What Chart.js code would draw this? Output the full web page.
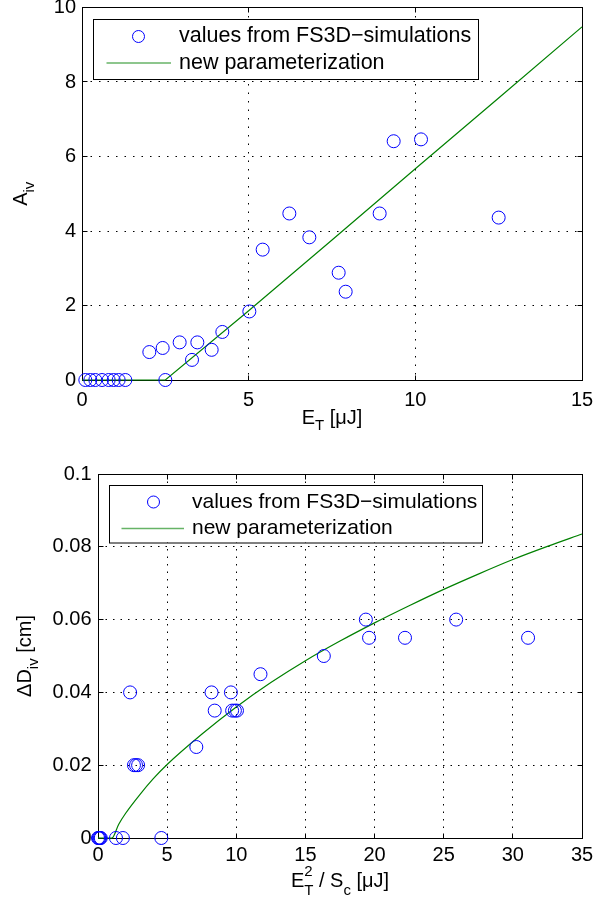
<!DOCTYPE html>
<html>
<head>
<meta charset="utf-8">
<script src="https://cdn.jsdelivr.net/npm/chart.js@4.4.1/dist/chart.umd.min.js"></script>
<style>
  body { margin: 0; background: #fff; }
  #wrap { position: relative; width: 608px; height: 898px; }
  canvas { position: absolute; left: 0; }
</style>
</head>
<body>
<div id="wrap">
  <canvas id="aivChart" width="608" height="440" style="top:0"></canvas>
  <canvas id="dChart" width="608" height="458" style="top:440px"></canvas>
</div>
<script>
// A_iv vs E_T : simulation results
const aivSimE = [0.1, 0.25, 0.4, 0.6, 0.8, 0.95, 1.1, 1.3, 2.02, 2.42, 2.5, 2.93, 3.3, 3.46, 3.89, 4.21,
                 5.02, 5.42, 6.22, 6.82, 7.7, 7.91, 8.93, 9.35, 10.17, 12.5];
const aivSimA = [0, 0, 0, 0, 0, 0, 0, 0, 0.75, 0.86, 0, 1.01, 0.54, 1.01, 0.81, 1.29,
                 1.84, 3.5, 4.47, 3.83, 2.88, 2.37, 4.47, 6.41, 6.46, 4.36];
// A_iv parameterization curve
const aivFitE = [0, 2.5, 5, 7.5, 10, 12.5, 15];
const aivFitA = [0, 0, 1.86, 3.76, 5.67, 7.57, 9.48];
const aivXTicks = [0, 5, 10, 15];
const aivYTicks = [0, 2, 4, 6, 8, 10];

// dD_iv vs E_T^2/S_c : simulation results
const dSimX = [0, 0.05, 0.1, 0.15, 0.2, 1.3, 1.8, 4.58, 2.32, 2.6, 2.75, 2.9, 7.11, 8.21, 8.44,
               9.61, 9.7, 9.9, 10.05, 11.75, 16.33, 19.37, 19.6, 22.2, 25.9, 31.1];
const dSimY = [0, 0, 0, 0, 0, 0, 0, 0, 0.04, 0.02, 0.02, 0.02, 0.025, 0.04, 0.035,
               0.04, 0.035, 0.035, 0.035, 0.045, 0.05, 0.06, 0.055, 0.055, 0.06, 0.055];
// dD_iv parameterization curve
const dFitX = [0, 1.0, 1.5, 2, 3, 4, 5, 7.5, 10, 12.5, 15, 17.5, 20, 22.5, 25, 27.5, 30, 32.5, 35];
const dFitY = [0, 0, 0.0038, 0.0068, 0.0118, 0.0163, 0.0202, 0.0285, 0.036, 0.0427, 0.0487, 0.0541,
               0.0591, 0.0638, 0.0683, 0.0725, 0.0765, 0.0801, 0.0835];
const dXTicks = [0, 5, 10, 15, 20, 25, 30, 35];
const dYTicks = [0, 0.02, 0.04, 0.06, 0.08, 0.1];

const simLabel = 'values from FS3D\u2212simulations';
const fitLabel = 'new parameterization';

const FONT = "'Liberation Sans', Arial, Helvetica, sans-serif";
Chart.defaults.font.family = FONT;
Chart.defaults.color = '#000';

const fmt = v => String(+Number(v).toFixed(4));
const align = p => Math.round(p - 0.5) + 0.5;

// text with sub/superscripts; parts: {t, dy, size, hold}
function drawRich(ctx, parts, cx, baseY, angle, size) {
  ctx.save();
  ctx.translate(cx, baseY);
  ctx.rotate(angle);
  ctx.textBaseline = 'alphabetic';
  ctx.textAlign = 'left';
  ctx.fillStyle = '#000';
  let total = 0;
  parts.forEach(p => {
    ctx.font = (p.size || size) + 'px ' + FONT;
    p.w = ctx.measureText(p.t).width;
    if (!p.hold) total += p.w;
  });
  let x = -total / 2;
  parts.forEach(p => {
    ctx.font = (p.size || size) + 'px ' + FONT;
    ctx.fillText(p.t, x, p.dy || 0);
    if (!p.hold) x += p.w;
  });
  ctx.restore();
}

// axes box with inward ticks, boxed legend, axis titles
const framePlugin = {
  id: 'frame',
  beforeDatasetsDraw(chart, args, o) {
    const { ctx, chartArea: a, scales: { x, y } } = chart;
    ctx.save();
    ctx.strokeStyle = '#000';
    ctx.lineWidth = 1;
    const l = align(a.left), r = align(a.right), t = align(a.top), b = align(a.bottom);
    ctx.strokeRect(l, t, r - l, b - t);
    ctx.beginPath();
    x.ticks.forEach(tk => {
      const px = align(x.getPixelForValue(tk.value));
      ctx.moveTo(px, b); ctx.lineTo(px, b - o.tick);
      ctx.moveTo(px, t); ctx.lineTo(px, t + o.tick);
    });
    y.ticks.forEach(tk => {
      const py = align(y.getPixelForValue(tk.value));
      ctx.moveTo(l, py); ctx.lineTo(l + o.tick, py);
      ctx.moveTo(r, py); ctx.lineTo(r - o.tick, py);
    });
    ctx.stroke();
    ctx.restore();
  },
  afterDatasetsDraw(chart, args, o) {
    const { ctx, chartArea: a } = chart;
    const L = o.legend;
    const bx = Math.round(a.left + L.dx), by = Math.round(a.top + L.dy);
    const [sim, fit] = chart.data.datasets;
    ctx.save();
    ctx.fillStyle = '#fff';
    ctx.fillRect(bx, by, L.w, L.h);
    ctx.strokeStyle = '#000';
    ctx.lineWidth = 1;
    ctx.strokeRect(bx + 0.5, by + 0.5, L.w, L.h);
    ctx.strokeStyle = sim.pointBorderColor;
    ctx.beginPath();
    ctx.arc(bx + L.markX, by + L.row1, 6, 0, Math.PI * 2);
    ctx.stroke();
    ctx.strokeStyle = 'rgba(0,128,0,0.6)';
    ctx.lineWidth = 1.6;
    ctx.beginPath();
    ctx.moveTo(bx + L.lineX0, by + L.row2);
    ctx.lineTo(bx + L.lineX1, by + L.row2);
    ctx.stroke();
    ctx.fillStyle = '#000';
    ctx.font = L.font + 'px ' + FONT;
    ctx.textBaseline = 'middle';
    ctx.fillText(sim.label, bx + L.textX, by + L.row1);
    ctx.fillText(fit.label, bx + L.textX, by + L.row2);
    ctx.restore();
  },
  afterDraw(chart, args, o) {
    const { ctx, chartArea: a } = chart;
    drawRich(ctx, o.xTitle, (a.left + a.right) / 2, o.xTitleY, 0, 20);
    drawRich(ctx, o.yTitle, o.yTitleX, (a.top + a.bottom) / 2, -Math.PI / 2, 20);
  }
};

function buildChart(id, simX, simY, fitX, fitY, xTicks, yTicks, area, pad, frame, smooth) {
  const canvas = document.getElementById(id);
  const W = canvas.width, H = canvas.height;
  const gridOpts = { color: '#000', lineWidth: 1, drawTicks: false };
  return new Chart(canvas, {
    type: 'scatter',
    data: {
      datasets: [
        {
          label: simLabel,
          data: simX.map((v, i) => ({ x: v, y: simY[i] })),
          pointRadius: 6.5,
          pointBorderWidth: 1,
          pointBorderColor: '#0000ff',
          pointBackgroundColor: 'rgba(0,0,0,0)',
          showLine: false,
          clip: false
        },
        {
          label: fitLabel,
          data: fitX.map((v, i) => ({ x: v, y: fitY[i] })),
          showLine: true,
          borderColor: '#008000',
          borderWidth: 1.2,
          pointRadius: 0,
          cubicInterpolationMode: smooth ? 'monotone' : 'default',
          tension: 0,
          clip: false
        }
      ]
    },
    options: {
      responsive: false,
      animation: false,
      events: [],
      layout: { padding: { top: area.top, right: W - area.right, left: 0, bottom: 0 } },
      scales: {
        x: {
          type: 'linear',
          min: xTicks[0],
          max: xTicks[xTicks.length - 1],
          afterBuildTicks: s => { s.ticks = xTicks.map(v => ({ value: v })); },
          afterFit: s => { s.height = H - area.bottom; s.paddingLeft = 0; s.paddingRight = 0; },
          grid: gridOpts,
          border: { display: false, dash: frame.dash },
          ticks: { font: { size: 20 }, padding: pad.x, maxRotation: 0, autoSkip: false, callback: fmt }
        },
        y: {
          type: 'linear',
          min: yTicks[0],
          max: yTicks[yTicks.length - 1],
          afterBuildTicks: s => { s.ticks = yTicks.map(v => ({ value: v })); },
          afterFit: s => { s.width = area.left; s.paddingTop = 0; s.paddingBottom = 0; },
          grid: gridOpts,
          border: { display: false, dash: frame.dash },
          ticks: { font: { size: 20 }, padding: pad.y, autoSkip: false, callback: fmt }
        }
      },
      plugins: {
        legend: { display: false },
        tooltip: { enabled: false },
        frame: frame
      }
    },
    plugins: [framePlugin]
  });
}

buildChart('aivChart', aivSimE, aivSimA, aivFitE, aivFitA, aivXTicks, aivYTicks,
  { left: 82, top: 6, right: 582, bottom: 380 },
  { x: 8, y: 6 },
  {
    tick: 5,
    dash: [1.5, 7],
    legend: { dx: 11, dy: 11, w: 385, h: 60, markX: 45.5, lineX0: 13.5, lineX1: 78, textX: 86, row1: 17.5, row2: 44, font: 21.5 },
    xTitle: [{ t: 'E' }, { t: 'T', size: 15, dy: 6 }, { t: ' [\u03bcJ]' }],
    xTitleY: 424,
    yTitle: [{ t: 'A' }, { t: 'iv', size: 15, dy: 7 }],
    yTitleX: 27
  }, false);

buildChart('dChart', dSimX, dSimY, dFitX, dFitY, dXTicks, dYTicks,
  { left: 98, top: 34, right: 582, bottom: 398 },
  { x: 5, y: 6.5 },
  {
    tick: 5,
    dash: [1.5, 6],
    legend: { dx: 11, dy: 11, w: 373, h: 57.5, markX: 44.5, lineX0: 12.5, lineX1: 75, textX: 83, row1: 17, row2: 43.5, font: 21 },
    xTitle: [{ t: 'E' }, { t: '2', size: 15, dy: -11, hold: true }, { t: 'T', size: 15, dy: 8 },
             { t: ' / S' }, { t: 'c', size: 15, dy: 8 }, { t: ' [\u03bcJ]' }],
    xTitleY: 447,
    yTitle: [{ t: '\u0394D' }, { t: 'iv', size: 15, dy: 7 }, { t: ' [cm]' }],
    yTitleX: 31
  }, true);
</script>
</body>
</html>
